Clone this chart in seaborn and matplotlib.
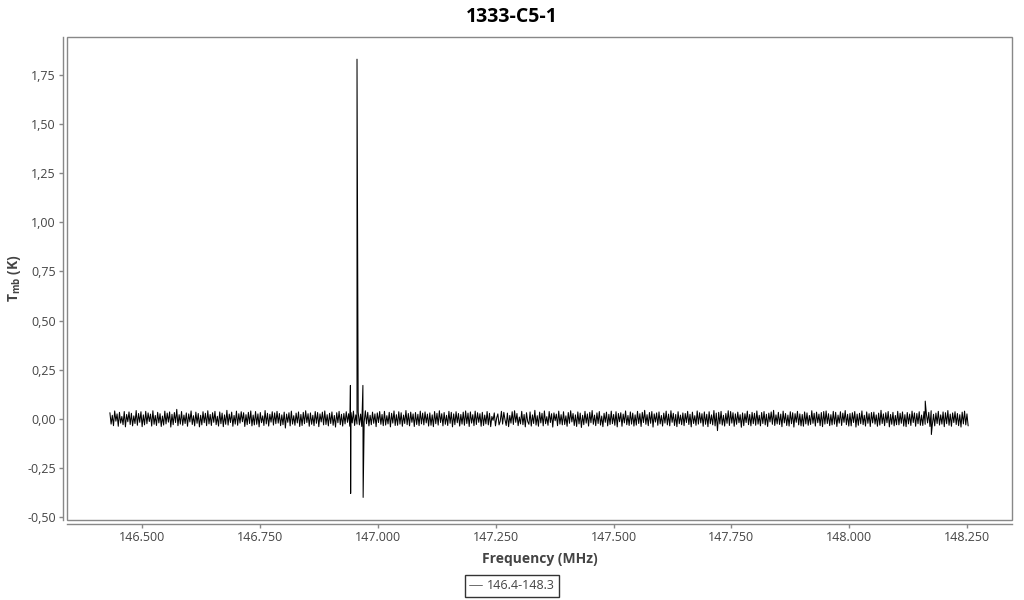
import numpy as np
import pandas as pd
import matplotlib
matplotlib.use("Agg")
import matplotlib.pyplot as plt
import matplotlib.ticker as mticker
from matplotlib.patches import Rectangle
import seaborn as sns

# --- data ---
title = "1333-C5-1"
series_name = "146.4-148.3"
freq_start = 146.432   # MHz, first channel
freq_stop = 148.252    # MHz, last channel

# baseline noise in mK (about +/-40 mK)
noise_mK = [
    31, -27, 18, -35, 40, -12, 25, -38, 33, -22, 12, -30, 37, -41, 22, -15, 35, -29, 28, -36,
    15, -24, 42, -33, 27, -18, 36, -40, 20, -31, 38, -25, 30, -14, 24, -37, 41, -28, 17, -34,
    33, -21, 26, -39, 14, -32, 39, -26, 29, -17, 35, -42, 23, -30, 32, -19, 48, -35, 21, -27,
    37, -33, 19, -24, 30, -38, 25, -16, 40, -29, 16, -36, 34, -23, 27, -41, 18, -31, 36, -20,
    28, -35, 41, -26, 22, -34, 31, -18, 38, -30, 13, -37, 35, -25, 29, -40, 20, -28, 43, -32,
    24, -19, 34, -38, 17, -27, 39, -33, 26, -22, 36, -15, 31, -39, 21, -30, 33, -24, 40, -36,
    19, -31, 37, -28, 25, -41, 32, -20, 15, -34, 42, -26, 28, -37, 23, -17, 36, -32, 30, -25,
    38, -22, 27, -35, 20, -30, 34, -47, 24, -18, 31, -36, 39, -27, 16, -33, 29, -21, 35, -39,
    22, -34, 33, -25, 41, -19, 26, -38, 30, -28, 18, -35, 37, -23, 32, -40, 25, -16, 34, -31,
    40, -29, 21, -36, 28, -24, 35, -33, 17, -42, 31, -20, 38, -30, 23, -37, 27, -26, 36, -18,
    26, -38, 32, -21, 39, -34, 20, -27, 35, -31, 24, -39, 29, -17, 41, -25, 33, -36, 18, -30,
    34, -23, 25, -40, 30, -19, 37, -28, 22, -35, 38, -32, 16, -26, 33, -41, 28, -22, 40, -34,
    21, -33, 36, -27, 31, -38, 19, -24, 42, -30, 27, -36, 34, -18, 25, -39, 32, -29, 23, -35,
    39, -26, 29, -31, 35, -21, 24, -37, 30, -33, 20, -40, 37, -25, 28, -32, 41, -19, 26, -36,
    32, -28, 18, -34, 38, -23, 33, -41, 25, -30, 36, -20, 27, -37, 22, -27, 34, -33, 40, -24,
    29, -39, 35, -22, 21, -35, 39, -29, 31, -18, 26, -38, 33, -34, 19, -26, 37, -31, 28, -40,
    12, -8, 30, -36, 4, 25, -31, -12, 38, -27, 33, -5, -34, 29, -40, 17, -22, 36, -29, 41,
    -18, 27, -35, 9, -26, 38, -30, 22, -41, 31, -14, -28, 35, -37, 20, -24, 43, -32, 16, -38,
    34, -21, 28, -36, 40, -25, 11, -33, 37, -19, 26, -42, 30, -10, 24, -35, 39, -27, 21, -31,
    36, -29, 15, -38, 32, -23, 41, -16, 27, -34, 20, -39, 35, -26, 29, -44, 18, -30, 38, -22,
    25, -37, 33, -20, 42, -28, 19, -35, 30, -24, 37, -32, 14, -40, 28, -18, 34, -36, 23, -29,
    39, -25, 22, -33, 36, -41, 27, -15, 31, -38, 24, -21, 40, -30, 17, -34, 35, -27, 29, -37,
    20, -32, 38, -24, 26, -39, 33, -19, 43, -28, 21, -35, 32, -23, 37, -42, 25, -17, 30, -33,
    35, -26, 17, -37, 29, -22, 39, -31, 24, -36, 41, -18, 28, -34, 22, -40, 36, -25, 19, -30,
    30, -35, 27, -19, 38, -29, 23, -41, 34, -24, 16, -33, 40, -27, 31, -21, 26, -38, 35, -28,
    23, -40, 36, -25, 20, -31, 42, -36, 29, -60, 33, -26, 38, -32, 18, -37, 27, -23, 41, -34,
    37, -22, 31, -38, 25, -28, 34, -20, 21, -43, 30, -35, 26, -19, 39, -30, 22, -36, 33, -25,
    28, -33, 40, -27, 18, -36, 32, -24, 37, -31, 23, -39, 29, -16, 35, -28, 43, -34, 20, -26,
    33, -29, 24, -40, 39, -21, 27, -34, 19, -37, 36, -25, 31, -42, 26, -18, 38, -31, 25, -36,
    22, -38, 35, -26, 30, -33, 17, -29, 41, -23, 28, -37, 34, -20, 24, -35, 32, -40, 37, -27,
    40, -24, 26, -35, 21, -31, 38, -27, 33, -39, 19, -22, 36, -34, 29, -18, 42, -30, 23, -37,
    27, -36, 31, -19, 37, -42, 24, -33, 28, -25, 40, -30, 18, -37, 35, -23, 26, -39, 32, -21,
    34, -27, 20, -38, 29, -32, 43, -24, 25, -35, 31, -20, 37, -41, 22, -28, 33, -36, 17, -30,
    38, -31, 28, -23, 35, -37, 21, -40, 32, -26, 24, -34, 39, -19, 30, -38, 27, -25, 36, -33,
    19, -34, 37, -28, 26, -21, 33, -39, 41, -30, 23, -36, 29, -24, 38, -32, 20, -27, 35, -40,
    31, -25, 42, -33, 24, -38, 30, -19, 36, -29, 27, -35, 21, -42, 34, -26, 39, -31, 25, -36,
]

# narrow features (MHz, K)
spike_freq = [146.942, 146.9425, 146.956, 146.9685, 146.969, 148.161, 148.174]
spike_val = [0.17, -0.38, 1.83, 0.17, -0.40, 0.09, -0.08]

x_ticks = [146.5, 146.75, 147.0, 147.25, 147.5, 147.75, 148.0, 148.25]
y_ticks = [-0.5, -0.25, 0.0, 0.25, 0.5, 0.75, 1.0, 1.25, 1.5, 1.75]

# --- build the spectrum ---
chan_freq = np.linspace(freq_start, freq_stop, len(noise_mK))
df = pd.DataFrame({
    "freq": np.concatenate([chan_freq, spike_freq]),
    "tmb": np.concatenate([np.array(noise_mK) / 1000.0, spike_val]),
}).sort_values("freq")
df["series"] = series_name

sns.set_style("white")
plt.rcParams["font.family"] = ["Open Sans", "DejaVu Sans"]
plt.rcParams["mathtext.fontset"] = "custom"
plt.rcParams["mathtext.rm"] = "Open Sans"
plt.rcParams["mathtext.bf"] = "Open Sans:bold"

grey = "#888888"
txt = "#444444"

fig = plt.figure(figsize=(10.24, 6), dpi=100)
ax = fig.add_axes([67 / 1024, 1 - 520 / 600, 945 / 1024, 483 / 600])

sns.lineplot(data=df, x="freq", y="tmb", hue="series", palette=["black"],
             estimator=None, sort=True, linewidth=0.75, ax=ax, legend=True)

ax.set_xlim(146.341, 148.345)
ax.set_ylim(-0.515, 1.943)
ax.set_xticks(x_ticks)
ax.set_yticks(y_ticks)
ax.xaxis.set_major_formatter(mticker.FuncFormatter(lambda v, p: f"{v:.3f}"))
ax.yaxis.set_major_formatter(mticker.FuncFormatter(lambda v, p: f"{v:.2f}".replace(".", ",")))

# inner box + outward axis lines
ax.add_patch(Rectangle((0, 0), 1, 1, transform=ax.transAxes, fill=False,
                       edgecolor=grey, linewidth=1, clip_on=False, zorder=5))
for s in ["top", "right"]:
    ax.spines[s].set_visible(False)
for s in ["left", "bottom"]:
    ax.spines[s].set_position(("outward", 3))
    ax.spines[s].set_color(grey)
    ax.spines[s].set_linewidth(1)

ax.tick_params(axis="both", which="major", direction="out", length=3, width=1, pad=2,
               color=grey, labelcolor=txt, labelsize=9, left=True, bottom=True)

ax.set_xlabel("Frequency (MHz)", fontsize=10, fontweight="bold", color=txt)
ax.xaxis.set_label_coords(0.5, -0.066)
ax.set_ylabel(r"$\mathbf{T}_{\mathregular{mb}}$ (K)", fontsize=10, fontweight="bold", color=txt)
ax.yaxis.set_label_coords(-0.047, 0.5)
fig.suptitle(title, fontsize=14, fontweight="bold", color="black", y=0.988)

ax.get_legend().remove()
handles, labels = ax.get_legend_handles_labels()
leg = fig.legend(handles, labels, loc="lower center", bbox_to_anchor=(0.5, -0.005),
                 frameon=True, fancybox=False, fontsize=9, handlelength=1.0,
                 handletextpad=0.4, borderpad=0.35)
leg.get_frame().set_edgecolor("black")
leg.get_frame().set_linewidth(1)
for t in leg.get_texts():
    t.set_color(txt)
for l in leg.get_lines():
    l.set_linewidth(0.6)
    l.set_color("#555555")

fig.savefig("out.png", dpi=100)
